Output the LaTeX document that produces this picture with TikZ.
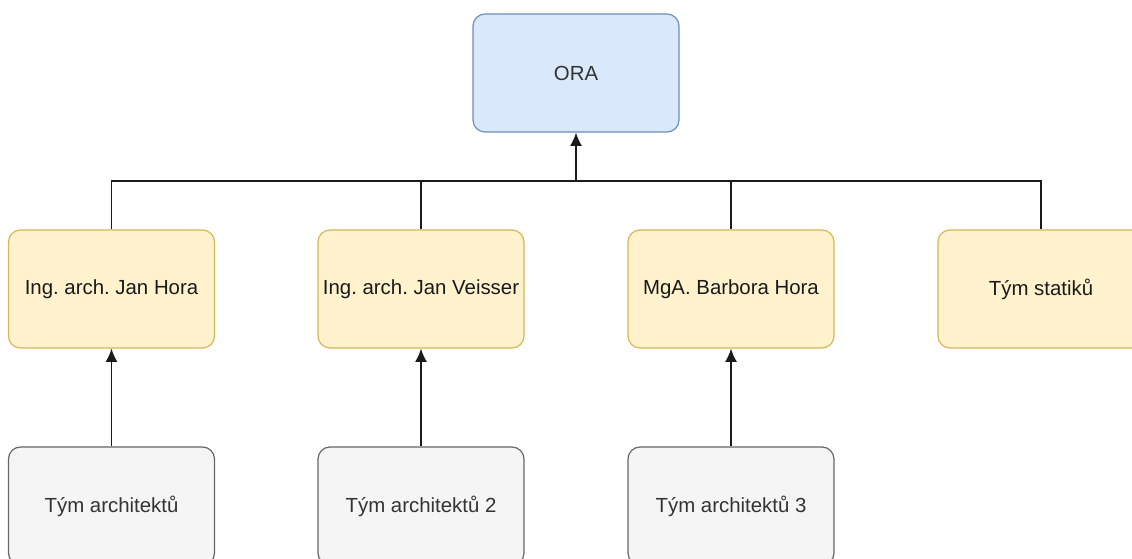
\documentclass[tikz,border=0pt]{standalone}
\usepackage{fontspec}
\setmainfont{Liberation Sans}
\frenchspacing
\usetikzlibrary{arrows.meta,positioning}
\definecolor{Ink}{HTML}{1A1A1A}
\definecolor{TextGrey}{HTML}{333333}
\definecolor{BlueFill}{HTML}{DAE8FC}
\definecolor{BlueLine}{HTML}{6C8EBF}
\definecolor{GoldFill}{HTML}{FFF2CC}
\definecolor{GoldLine}{HTML}{D6B656}
\definecolor{GreyFill}{HTML}{F5F5F5}
\definecolor{GreyLine}{HTML}{666666}
\tikzset{
  >={Latex[length=10pt,width=9pt]},
  box/.style={rectangle,rounded corners=9pt,line width=.9pt,minimum width=154.5pt,minimum height=88.5pt,
    inner sep=2pt,font=\fontsize{15.3}{18}\selectfont,text=TextGrey},
  head/.style={box,draw=BlueLine,fill=BlueFill},
  lead/.style={box,draw=GoldLine,fill=GoldFill,text=Ink},
  team/.style={box,draw=GreyLine,fill=GreyFill},
  link/.style={line width=1.1pt,draw=Ink},
  up/.style={link,->}
}
\begin{document}
\begin{tikzpicture}[x=0.75pt,y=-0.75pt]
  \clip (0,0) rectangle (1132,559);
  \node[head] (ora) at (576,73) {ORA};
  \node[lead] (jhora) at (111.5,289) {Ing. arch. Jan Hora};
  \node[lead] (veisser) at (421,289) {Ing. arch. Jan Veisser};
  \node[lead] (bhora) at (731,289) {MgA. Barbora Hora};
  \node[lead] (statici) at (1041,289) {Tým statiků};
  \node[team] (team1) at (111.5,506) {Tým architektů};
  \node[team] (team2) at (421,506) {Tým architektů 2};
  \node[team] (team3) at (731,506) {Tým architektů 3};
  \coordinate (bus) at (576,181);
  % tree to the top
  \draw[link] (jhora.north) |- (bus) -| (statici.north);
  \draw[link] (veisser.north) -- (veisser.north |- bus);
  \draw[link] (bhora.north) -- (bhora.north |- bus);
  \draw[up] (bus) -- (ora.south);
  % teams
  \draw[up] (team1) -- (jhora);
  \draw[up] (team2) -- (veisser);
  \draw[up] (team3) -- (bhora);
\end{tikzpicture}
\end{document}
